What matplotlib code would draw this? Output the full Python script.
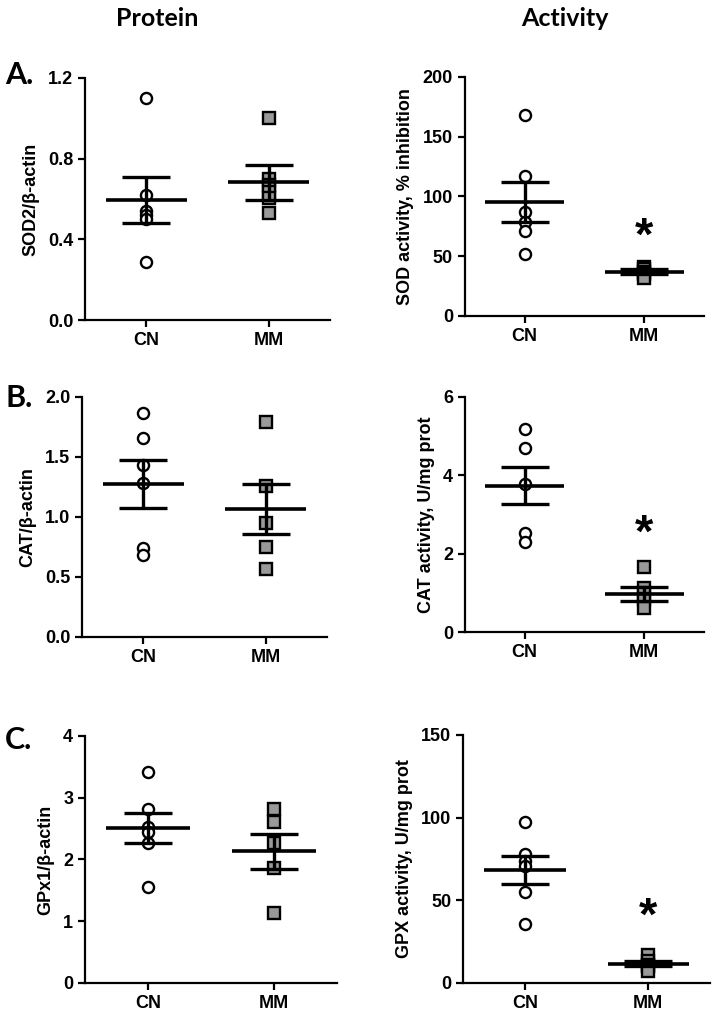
import numpy as np
import matplotlib
matplotlib.use('Agg')
from matplotlib import pyplot as plt

plt.rcParams['font.family'] = ['Liberation Sans', 'DejaVu Sans']
plt.rcParams['font.weight'] = 'bold'

groups = ['CN', 'MM']

# A. SOD
sod2_cn = [1.10, 0.62, 0.54, 0.52, 0.50, 0.29]
sod2_mm = [1.00, 0.70, 0.67, 0.635, 0.605, 0.53]
sod2_mean = [0.595, 0.682]
sod2_sem = [0.112, 0.087]

sodact_cn = [168, 117, 87, 79, 71, 52]
sodact_mm = [41, 39, 37, 35, 32]
sodact_mean = [95.5, 37.0]
sodact_sem = [17.0, 2.0]

# B. CAT
cat_cn = [1.87, 1.66, 1.43, 1.28, 0.74, 0.68]
cat_mm = [1.79, 1.26, 0.95, 0.75, 0.57]
cat_mean = [1.275, 1.067]
cat_sem = [0.20, 0.21]

catact_cn = [5.19, 4.71, 3.79, 2.53, 2.30]
catact_mm = [1.66, 1.12, 1.00, 0.84, 0.61]
catact_mean = [3.74, 0.97]
catact_sem = [0.46, 0.19]

# C. GPX
gpx1_cn = [3.41, 2.82, 2.53, 2.45, 2.27, 1.56]
gpx1_mm = [2.81, 2.60, 2.27, 1.86, 1.13]
gpx1_mean = [2.51, 2.13]
gpx1_sem = [0.245, 0.29]

gpxact_cn = [97.6, 78.0, 73.5, 70.5, 55.0, 35.6]
gpxact_mm = [17, 13, 11, 10, 7]
gpxact_mean = [68.5, 11.7]
gpxact_sem = [8.5, 1.5]

# significance stars (y position) for the activity panels
star_y = {'sod': 75, 'cat': 2.77, 'gpx': 46}


def dot_panel(ax, cn, mm, mean, sem, ylabel, ylim, yticks, fmt, star=None):
    ax.plot(np.zeros(len(cn)), cn, 'o', ms=8, mfc='white', mec='black',
            mew=1.7, zorder=2, clip_on=False)
    ax.plot(np.ones(len(mm)), mm, 's', ms=8, mfc='#999999', mec='black',
            mew=1.7, zorder=2, clip_on=False)
    for i in range(2):
        ax.hlines(mean[i], i - 0.33, i + 0.33, color='black', lw=2.6, zorder=3)
        ax.errorbar(i, mean[i], yerr=sem[i], fmt='none', ecolor='black',
                    elinewidth=2.4, capsize=17, capthick=2.4, zorder=3)
    if star is not None:
        # the '*' glyph sits high in its box, nudge it down
        ax.annotate('*', (1, star), xytext=(0, -8), textcoords='offset points',
                    ha='center', va='center', fontsize=34, fontweight='bold')
    ax.set_xlim(-0.5, 1.5)
    ax.set_ylim(*ylim)
    ax.set_yticks(yticks)
    ax.set_yticklabels([fmt.format(t) for t in yticks])
    ax.set_xticks([0, 1])
    ax.set_xticklabels(groups)
    ax.spines['top'].set_visible(False)
    ax.spines['right'].set_visible(False)
    ax.spines['left'].set_linewidth(1.6)
    ax.spines['bottom'].set_linewidth(1.6)
    ax.tick_params(width=1.6, length=5, labelsize=13)
    ax.set_ylabel(ylabel, fontsize=13, fontweight='bold', labelpad=6)


fig = plt.figure(figsize=(7.14, 10.14), dpi=100)

ax = fig.add_axes([0.119, 0.6844, 0.343, 0.2387])
dot_panel(ax, sod2_cn, sod2_mm, sod2_mean, sod2_sem, 'SOD2/β-actin',
          (0, 1.2), [0, 0.4, 0.8, 1.2], '{:.1f}')
ax = fig.add_axes([0.651, 0.6884, 0.335, 0.2357])
dot_panel(ax, sodact_cn, sodact_mm, sodact_mean, sodact_sem,
          'SOD activity, % inhibition', (0, 200), [0, 50, 100, 150, 200],
          '{:.0f}', star_y['sod'])

ax = fig.add_axes([0.115, 0.3718, 0.343, 0.2367])
dot_panel(ax, cat_cn, cat_mm, cat_mean, cat_sem, 'CAT/β-actin',
          (0, 2.0), [0, 0.5, 1.0, 1.5, 2.0], '{:.1f}')
ax = fig.add_axes([0.651, 0.3767, 0.335, 0.2318])
dot_panel(ax, catact_cn, catact_mm, catact_mean, catact_sem,
          'CAT activity, U/mg prot', (0, 6), [0, 2, 4, 6], '{:.0f}',
          star_y['cat'])

ax = fig.add_axes([0.119, 0.0306, 0.353, 0.2436])
dot_panel(ax, gpx1_cn, gpx1_mm, gpx1_mean, gpx1_sem, 'GPx1/β-actin',
          (0, 4), [0, 1, 2, 3, 4], '{:.0f}')
ax = fig.add_axes([0.6485, 0.0306, 0.346, 0.2446])
dot_panel(ax, gpxact_cn, gpxact_mm, gpxact_mean, gpxact_sem,
          'GPX activity, U/mg prot', (0, 150), [0, 50, 100, 150], '{:.0f}',
          star_y['gpx'])

# column titles and panel letters
fig.text(157 / 714, 1 - 18 / 1014, 'Protein', ha='center', va='center',
         fontsize=18, fontweight='bold', family='Lato')
fig.text(565 / 714, 1 - 18 / 1014, 'Activity', ha='center', va='center',
         fontsize=18, fontweight='bold', family='Lato')
for lbl, ypix in [('A.', 75), ('B.', 398), ('C.', 740)]:
    fig.text(5 / 714, 1 - ypix / 1014, lbl, ha='left', va='center',
             fontsize=22, fontweight='bold', family='Lato')

plt.savefig('out.png', dpi=100)
